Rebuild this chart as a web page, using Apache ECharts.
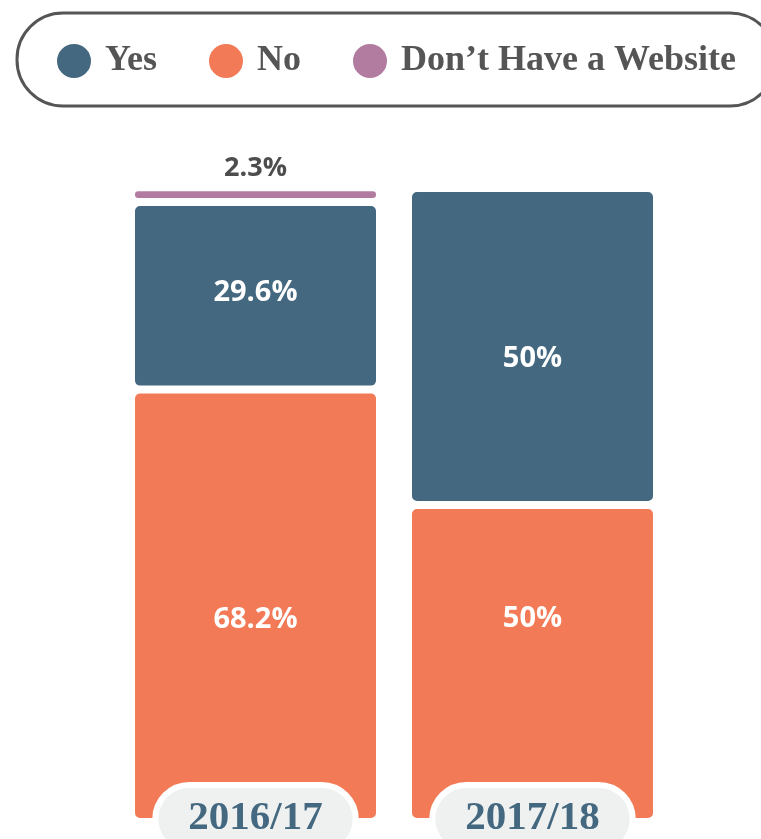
<!DOCTYPE html>
<html>
<head>
<meta charset="utf-8">
<script src="https://cdn.jsdelivr.net/npm/echarts@6/dist/echarts.min.js"></script>
<style>html,body{margin:0;padding:0;background:#fff}#c{width:761px;height:839px}</style>
</head>
<body>
<div id="c"></div>
<script>
const categories = ['2016/17', '2017/18'];
const seriesNames = ['Yes', 'No', 'Don\u2019t Have a Website'];
const yesValues = [29.6, 50];
const noValues = [68.2, 50];
const noSiteValues = [2.3, null];

const COLORS = { yes: '#44687f', no: '#f37a56', nosite: '#b17ca0' };
const labelFont = { fontFamily: 'Open Sans', fontWeight: 700, fontSize: 29 };

function withOffsets(vals, offs) {
  return vals.map((v, i) => ({ value: v, label: { offset: [0, offs[i]] } }));
}

const chart = echarts.init(document.getElementById('c'));
chart.setOption({
  animation: false,
  backgroundColor: '#fff',
  legend: {
    data: seriesNames,
    orient: 'horizontal',
    left: 17, top: 13, width: 760,
    padding: [29, 40, 26, 38],
    borderColor: '#555', borderWidth: 3, borderRadius: 46,
    icon: 'circle', itemWidth: 36, itemHeight: 36, itemGap: 50,
    textStyle: { fontFamily: 'Liberation Serif', fontWeight: 'bold', fontSize: 36, color: '#555', padding: [0, 0, 0, 8] }
  },
  grid: { left: 117, right: 90, top: 188, bottom: 17, outerBoundsMode: 'none', containLabel: false },
  xAxis: {
    type: 'category', data: categories, z: 10,
    axisLine: { show: false }, axisTick: { show: false },
    axisLabel: {
      margin: -34,
      fontFamily: 'Liberation Serif', fontWeight: 'bold', fontSize: 41, color: '#44687f',
      backgroundColor: '#eff1f1', borderColor: '#fff', borderWidth: 6, borderRadius: 32,
      padding: [10, 30, 12, 30], lineHeight: 40
    }
  },
  yAxis: { type: 'value', min: 0, max: 100, show: false, splitLine: { show: false } },
  series: [
    {
      name: 'No', type: 'bar', stack: 's', barWidth: 249,
      data: withOffsets(noValues, [13.5, -44.5]),
      itemStyle: { color: COLORS.no, borderColor: '#fff', borderWidth: 4, borderRadius: 7 },
      label: Object.assign({ show: true, position: 'inside', color: '#fff', formatter: p => p.value + '%' }, labelFont)
    },
    {
      name: 'Yes', type: 'bar', stack: 's', barWidth: 249,
      data: withOffsets(yesValues, [-3, 12.5]),
      itemStyle: { color: COLORS.yes, borderColor: '#fff', borderWidth: 4, borderRadius: 7 },
      label: Object.assign({ show: true, position: 'inside', color: '#fff', formatter: p => p.value + '%' }, labelFont)
    },
    {
      name: 'Don\u2019t Have a Website', type: 'bar', stack: 's', barWidth: 249,
      data: noSiteValues,
      itemStyle: { color: COLORS.nosite, borderColor: '#fff', borderWidth: 4, borderRadius: 7 },
      label: Object.assign({ show: true, position: 'top', distance: 6, color: '#4d4d4d', formatter: p => p.value + '%' }, labelFont, { fontSize: 27 })
    }
  ]
});
</script>
</body>
</html>
